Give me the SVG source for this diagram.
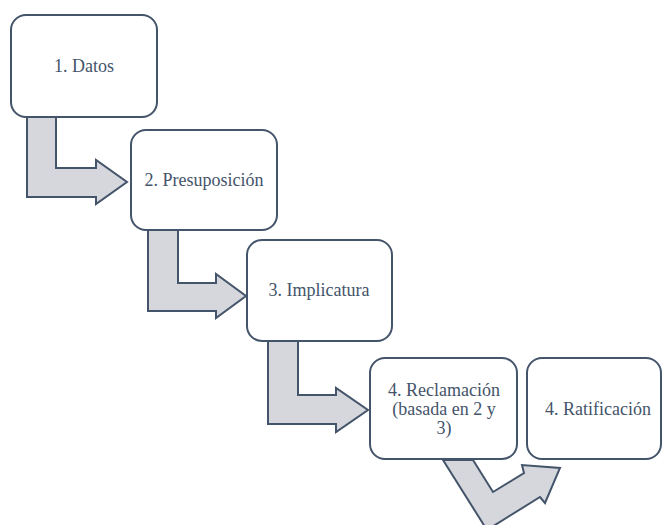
<svg xmlns="http://www.w3.org/2000/svg" width="662" height="525" viewBox="0 0 662 525">
<style>
.box{fill:#ffffff;stroke:#44546a;stroke-width:2}
.arr{fill:#d5d7dc;stroke:#44546a;stroke-width:2;stroke-linejoin:miter}
.t{font-family:"Liberation Serif","Times New Roman",serif;font-size:18px;fill:#44546a;text-anchor:middle}
</style>
<rect width="662" height="525" fill="#ffffff"/>
<g id="connectors">
<polygon class="arr" points="27,117 56,117 56,168 96,168 96,160 127,182 96,204 96,197 27,197"/>
<polygon class="arr" points="148,230 178,230 178,283 216,283 216,274 246,296 216,318 216,311 148,311"/>
<polygon class="arr" points="268,341 298,341 298,395 336,395 336,388 368,410 336,432 336,424 268,424"/>
<polygon class="arr" points="443,460 473,460 493,492 524,473 522,465 560,468 545,503 540,497 487,530"/>
</g>
<g id="node1">
<rect class="box" x="11" y="15" width="146" height="102" rx="15"/>
<text class="t" x="84" y="72">1. Datos</text>
</g>
<g id="node2">
<rect class="box" x="131" y="130" width="146" height="100" rx="15"/>
<text class="t" x="204" y="186">2. Presuposición</text>
</g>
<g id="node3">
<rect class="box" x="247" y="240" width="145" height="101" rx="15"/>
<text class="t" x="319" y="296">3. Implicatura</text>
</g>
<g id="node4">
<rect class="box" x="370" y="358" width="147" height="101" rx="15"/>
<text class="t" x="444" y="396">4. Reclamación</text>
<text class="t" x="444" y="415">(basada en 2 y</text>
<text class="t" x="444" y="434">3)</text>
</g>
<g id="node5">
<rect class="box" x="527" y="358" width="134" height="101" rx="15"/>
<text class="t" x="598" y="415">4. Ratificación</text>
</g>
</svg>
